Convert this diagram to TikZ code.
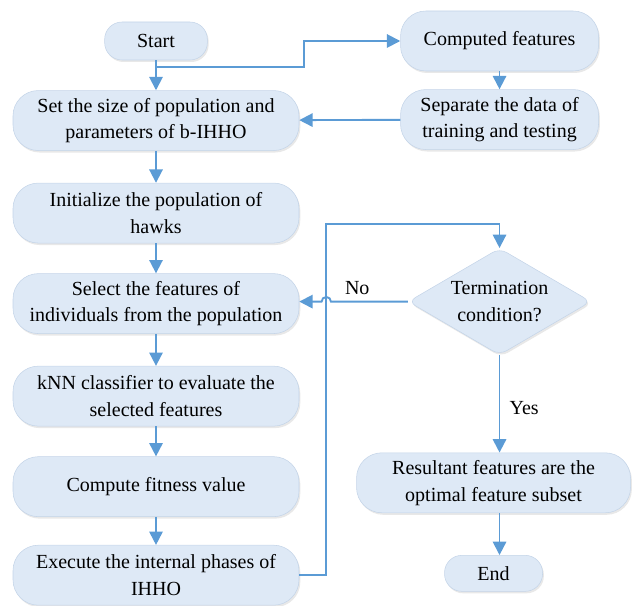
\documentclass[tikz,border=0pt]{standalone}
\usepackage{fontspec}
\setmainfont{Liberation Serif}
\usepackage{xcolor}
\definecolor{boxfill}{RGB}{222,233,246}
\definecolor{boxline}{RGB}{196,212,232}
\definecolor{flowblue}{RGB}{91,155,213}
\usetikzlibrary{arrows.meta,positioning,shapes.geometric,shadows,calc}

\begin{document}
\begin{tikzpicture}[>={Triangle[width=10pt,length=10pt]}, font=\fontsize{15}{20}\selectfont,
    box/.style={draw=boxline, fill=boxfill, rounded corners=19pt, minimum width=214.5pt, minimum height=45pt, align=center, inner sep=2pt,
      drop shadow={opacity=0.18, shadow xshift=1pt, shadow yshift=-1.5pt}},
    flow/.style={draw=flowblue, line width=1.4pt}]
        \useasboundingbox (0,0) rectangle (474pt,-454.5pt);
        \node[box, minimum width=77pt, minimum height=28.5pt, rounded corners=13pt] (start) at (117pt,-30.75pt) {Start};
        \node[box, below=22.5pt of start] (setsz) {Set the size of population and\\parameters of b-IHHO};
        \node[box, below=24pt of setsz] (init) {Initialize the population of\\hawks};
        \node[box, below=22.5pt of init] (select) {Select the features of\\individuals from the population};
        \node[box, below=24pt of select] (knn) {kNN classifier to evaluate the\\selected features};
        \node[box, below=22.5pt of knn] (fit) {Compute fitness value};
        \node[box, below=21pt of fit] (exec) {Execute the internal phases of\\IHHO};
        \node[box, minimum width=148.5pt, right=144.5pt of start] (comp) {Computed features};
        \node[box, minimum width=148.5pt, below=13.5pt of comp] (sep) {Separate the data of\\training and testing};
        \node[box, diamond, rounded corners=6pt, aspect=1.7, inner sep=0pt, minimum width=137pt, minimum height=80pt, yshift=1.5pt] (term) at (sep |- select) {Termination\\condition?};
        \node[box, minimum width=205.5pt, below=73pt of term, xshift=-4.5pt] (result) {Resultant features are the\\optimal feature subset};
        \node[box, minimum width=73.5pt, minimum height=27pt, rounded corners=13pt, below=31.5pt of result] (end) {End};
        % main column
        \draw[flow, ->] (start) -- (setsz);
        \draw[flow, ->] (setsz) -- (init);
        \draw[flow, ->] (init) -- (select);
        \draw[flow, ->] (select) -- (knn);
        \draw[flow, ->] (knn) -- (fit);
        \draw[flow, ->] (fit) -- (exec);
        % data branch
        \coordinate (split) at ($(start.south)+(0,-5pt)$);
        \coordinate (mid) at ($(start.east)!0.5!(comp.west)$);
        \draw[flow, ->] (split) -| (mid) -- (comp.west);
        \draw[flow, ->] (comp) -- (sep);
        \draw[flow, ->] (sep) -- (setsz);
        % loop back
        \coordinate (loopx) at ($(exec.east)+(20.25pt,0)$);
        \coordinate (top) at ($(term.north)+(0,18pt)$);
        \draw[flow, ->] (exec.east) -| (top -| loopx) -- (top) -- (term.north);
        \draw[flow, ->] (term.west) -- ($(term.west -| loopx)+(3.5pt,0)$) arc[start angle=0, end angle=180, radius=3.5pt] -- (term.west -| select.east);
        \node[above=2pt of term.west, xshift=-38pt] (no) {No};
        \draw[flow, ->] (term.south) -- (term.south |- result.north);
        \node[right=4pt of term.south, yshift=-40pt] (yes) {Yes};
        \draw[flow, ->] (result.south -| term.south) -- (end.north -| term.south);
      \end{tikzpicture}
\end{document}
